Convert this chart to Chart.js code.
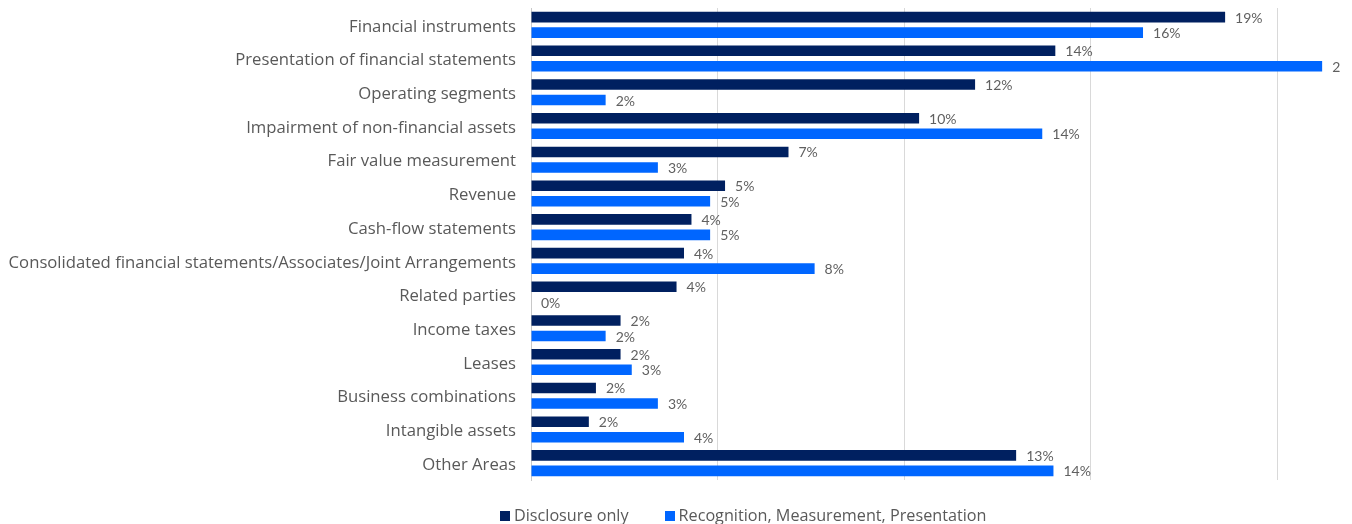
<!DOCTYPE html>
<html>
<head>
<meta charset="utf-8">
<script src="https://cdn.jsdelivr.net/npm/chart.js@4.4.1/dist/chart.umd.min.js"></script>
<style>
  html, body { margin: 0; padding: 0; background: #fff; }
  #wrap { position: relative; width: 1352px; height: 524px; }
  #legend { position: absolute; left: 500px; top: 504px; font-family: "Open Sans", sans-serif; font-size: 16.2px; color: #595959; white-space: nowrap; }
  #legend span.item { margin-right: 36px; }
  #legend span.box { display: inline-block; width: 10px; height: 10px; margin-right: 4px; }
</style>
</head>
<body>
<div id="wrap">
  <canvas id="chart" width="1352" height="524"></canvas>
  <div id="legend"></div>
</div>
<script>
// categories, top to bottom
const categories = [
    'Financial instruments',
    'Presentation of financial statements',
    'Operating segments',
    'Impairment of non-financial assets',
    'Fair value measurement',
    'Revenue',
    'Cash-flow statements',
    'Consolidated financial statements/Associates/Joint Arrangements',
    'Related parties',
    'Income taxes',
    'Leases',
    'Business combinations',
    'Intangible assets',
    'Other Areas'
];

const seriesNames = ['Disclosure only', 'Recognition, Measurement, Presentation'];

// percent of findings
const disclosureOnly = [18.6, 14.05, 11.9, 10.4, 6.9, 5.2, 4.3, 4.1, 3.9, 2.4, 2.4, 1.74, 1.55, 13.0];
const recognition = [16.4, 21.2, 2.0, 13.7, 3.4, 4.8, 4.8, 7.6, 0, 2.0, 2.7, 3.4, 4.1, 14.0];

// x axis gridlines
const xTicks = [0, 5, 10, 15, 20];
const xMax = 22;

const colors = ['#002060', '#0066ff'];

// draws the "19%" style labels after each bar
const valueLabels = {
    id: 'valueLabels',
    afterDatasetsDraw(chart) {
        const ctx = chart.ctx;
        ctx.save();
        ctx.beginPath();
        ctx.rect(0, 0, 1341, chart.height);
        ctx.clip();
        ctx.font = '14px Lato, sans-serif';
        ctx.fillStyle = '#606060';
        ctx.textBaseline = 'middle';
        ctx.textAlign = 'left';
        chart.data.datasets.forEach((ds, i) => {
            chart.getDatasetMeta(i).data.forEach((bar, j) => {
                ctx.fillText(Math.round(ds.data[j]) + '%', bar.x + 10, bar.y + 1);
            });
        });
        ctx.restore();
    }
};

const ctx = document.getElementById('chart').getContext('2d');
const chart = new Chart(ctx, {
    type: 'bar',
    data: {
        labels: categories,
        datasets: [
            { label: seriesNames[0], data: disclosureOnly, backgroundColor: colors[0] },
            { label: seriesNames[1], data: recognition, backgroundColor: colors[1] }
        ]
    },
    options: {
        indexAxis: 'y',
        responsive: false,
        animation: false,
        categoryPercentage: 0.92,
        barPercentage: 0.68,
        layout: { padding: { top: 8, bottom: 44, left: 0, right: 0 } },
        plugins: {
            legend: { display: false },
            tooltip: { enabled: false }
        },
        scales: {
            x: {
                min: 0,
                max: xMax,
                afterBuildTicks: (scale) => { scale.ticks = xTicks.map(v => ({ value: v })); },
                ticks: { display: false },
                grid: { color: '#d9d9d9', drawTicks: false },
                border: { display: false },
                afterFit: (scale) => { scale.height = 0; scale.paddingLeft = 0; scale.paddingRight = 0; }
            },
            y: {
                grid: { display: false, drawTicks: false },
                border: { display: true, color: '#c8c8c8' },
                ticks: {
                    color: '#595959',
                    padding: 15,
                    labelOffset: 2,
                    font: { family: '"Open Sans", sans-serif', size: 16.7 }
                },
                afterFit: (scale) => { scale.width = 531; scale.paddingTop = 0; scale.paddingBottom = 0; }
            }
        }
    },
    plugins: [valueLabels]
});

// legend under the chart
const legend = document.getElementById('legend');
chart.data.datasets.forEach(ds => {
    const item = document.createElement('span');
    item.className = 'item';
    const box = document.createElement('span');
    box.className = 'box';
    box.style.background = ds.backgroundColor;
    item.appendChild(box);
    item.appendChild(document.createTextNode(ds.label));
    legend.appendChild(item);
});
</script>
</body>
</html>
